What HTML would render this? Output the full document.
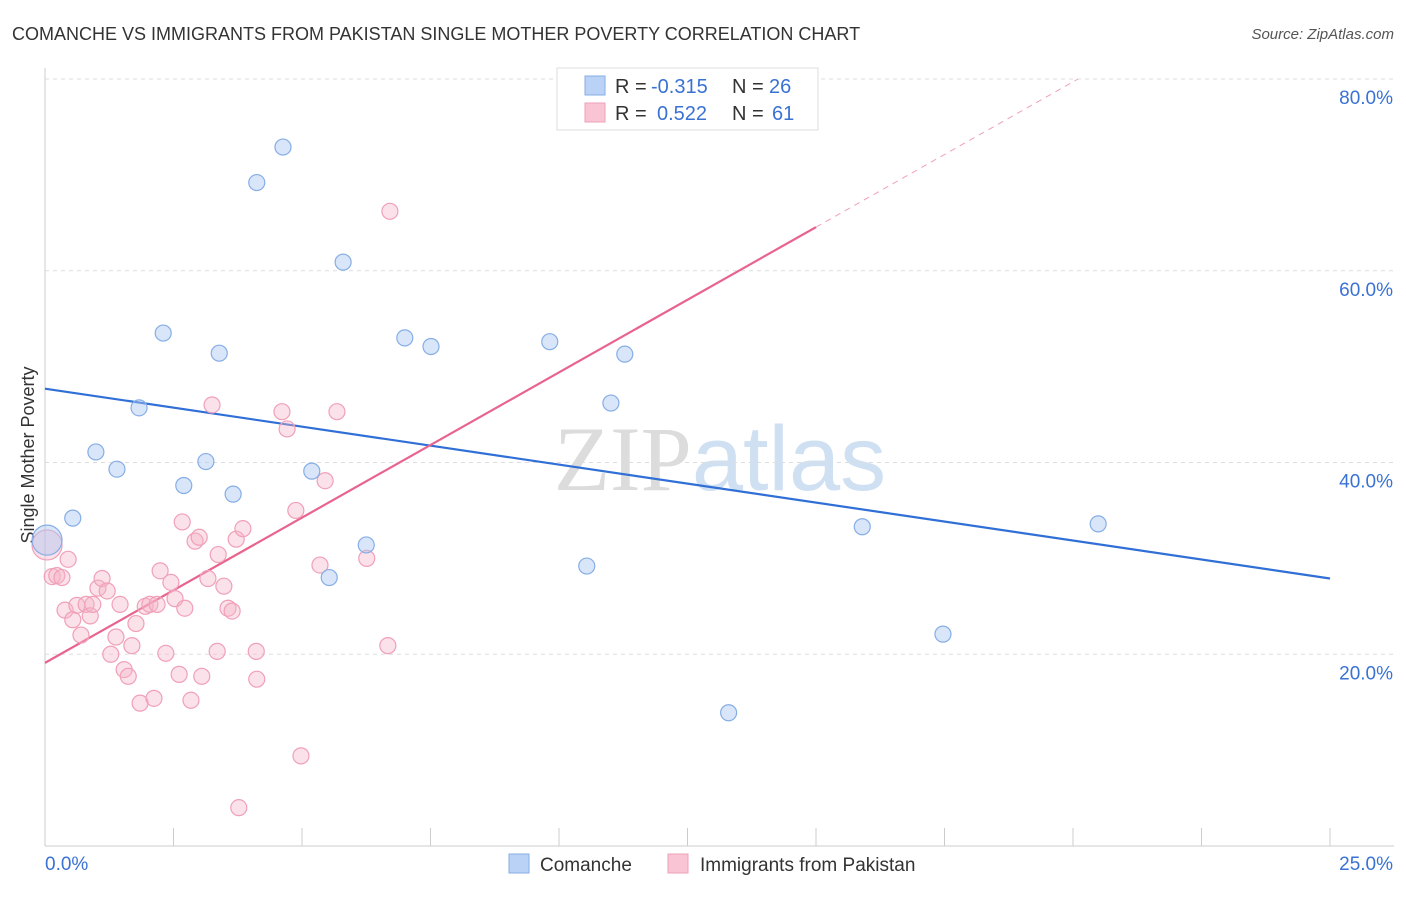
<!DOCTYPE html>
<html><head><meta charset="utf-8">
<style>
body{margin:0;background:#fff;font-family:"Liberation Sans",sans-serif;}
svg text{font-family:"Liberation Sans",sans-serif;}
</style></head>
<body>
<svg id="chart" width="1406" height="892" xmlns="http://www.w3.org/2000/svg">
<text x="12" y="40" font-size="18" fill="#333">COMANCHE VS IMMIGRANTS FROM PAKISTAN SINGLE MOTHER POVERTY CORRELATION CHART</text>
<text x="1394" y="39" font-size="15" fill="#555" font-style="italic" text-anchor="end">Source: ZipAtlas.com</text>
<text x="720" y="490" font-size="92" fill="#e4e4e4" text-anchor="middle"><tspan font-family="Liberation Serif" fill="#dcdcdc">ZIP</tspan><tspan fill="#cfe0f3">atlas</tspan></text>
<text transform="translate(34,455) rotate(-90)" font-size="18" fill="#333" text-anchor="middle">Single Mother Poverty</text>
<g id="grid"></g>
<g id="axes"></g>
<g id="lines"></g>
<g id="points"></g>
<g>
<rect x="557" y="68" width="261" height="62" fill="#fff" stroke="#ddd"/>
<rect x="585" y="76" width="20" height="19" fill="#b9d2f5" stroke="#86aee6"/>
<rect x="585" y="103" width="20" height="19" fill="#f9c5d5" stroke="#f0a0b8"/>
<text x="615" y="93" font-size="20" fill="#333">R =</text>
<text x="651" y="93" font-size="20" fill="#3a72d4">-0.315</text>
<text x="732" y="93" font-size="20" fill="#333">N =</text>
<text x="769" y="93" font-size="20" fill="#3a72d4">26</text>
<text x="615" y="120" font-size="20" fill="#333">R =</text>
<text x="657" y="120" font-size="20" fill="#3a72d4">0.522</text>
<text x="732" y="120" font-size="20" fill="#333">N =</text>
<text x="772" y="120" font-size="20" fill="#3a72d4">61</text>
</g>
<g>
<rect x="509" y="854" width="20" height="19" fill="#b9d2f5" stroke="#86aee6"/>
<text x="540" y="871" font-size="19" fill="#333">Comanche</text>
<rect x="668" y="854" width="20" height="19" fill="#f9c5d5" stroke="#f0a0b8"/>
<text x="700" y="871" font-size="19" fill="#333">Immigrants from Pakistan</text>
</g>
</svg>
<script>
const yTicks=[20,40,60,80];
const yTickLabels=["20.0%","40.0%","60.0%","80.0%"];
const xTickLabels=["0.0%","25.0%"];
const comancheX=[0.04,0.54,0.99,1.4,1.83,2.3,2.7,3.13,3.39,3.66,4.12,4.63,5.19,5.53,5.8,6.25,7.0,7.51,9.82,10.54,11.01,11.28,13.3,15.9,17.47,20.49];
const comancheY=[31.9,34.2,41.1,39.3,45.7,53.5,37.6,40.1,51.4,36.7,69.2,72.9,39.1,28.0,60.9,31.4,53.0,52.1,52.6,29.2,46.2,51.3,13.9,33.3,22.1,33.6];
const pakX=[0.04,0.14,0.23,0.33,0.45,0.39,0.54,0.62,0.7,0.8,0.88,0.93,1.03,1.11,1.21,1.28,1.38,1.46,1.54,1.62,1.69,1.77,1.85,1.95,2.04,2.12,2.18,2.24,2.35,2.45,2.53,2.61,2.72,2.67,2.84,2.92,3.0,3.05,3.17,3.25,3.35,3.37,3.48,3.56,3.64,3.72,3.77,3.85,4.11,4.12,4.61,4.71,4.88,4.98,5.35,5.45,5.68,6.26,6.67,6.71,10.12];
const pakY=[31.4,28.1,28.2,28.0,29.9,24.6,23.6,25.1,22.0,25.2,24.0,25.2,26.9,27.9,26.6,20.0,21.8,25.2,18.4,17.7,20.9,23.2,14.9,25.0,25.2,15.4,25.2,28.7,20.1,27.5,25.8,17.9,24.8,33.8,15.2,31.8,32.2,17.7,27.9,46.0,20.3,30.4,27.1,24.8,24.5,32.0,4.0,33.1,20.3,17.4,45.3,43.5,35.0,9.4,29.3,38.1,45.3,30.0,20.9,66.2,76.7];
const comancheLine=[47.7,27.9];
const pakLine=[19.1,3.03];
const NS="http://www.w3.org/2000/svg";
const X0=45,X1=1330,Y0=846,Y80=79;
const sx=v=>X0+(v/25)*(X1-X0);
const sy=v=>Y0-(v/80)*(Y0-Y80);
function mk(tag,attrs,parent){const e=document.createElementNS(NS,tag);for(const k in attrs)e.setAttribute(k,attrs[k]);document.getElementById(parent).appendChild(e);return e;}
yTicks.forEach((t,i)=>{
 const l=mk('line',{x1:X0,x2:1394,y1:sy(t),y2:sy(t),stroke:'#ddd','stroke-dasharray':'4,4'},'grid');
 
 
 const tx=mk('text',{x:1393,y:sy(t)+25,'font-size':19,fill:'#3a72d4','text-anchor':'end'},'grid');
 tx.textContent=yTickLabels[i];
 
 
});
let ax=mk('line',{x1:X0,x2:X0,y1:68,y2:Y0,stroke:'#ccc'},'axes');


ax=mk('line',{x1:X0,x2:1394,y1:Y0,y2:Y0,stroke:'#ccc'},'axes');


for(let i=1;i<=10;i++){const t=mk('line',{x1:sx(i*2.5),x2:sx(i*2.5),y1:828,y2:Y0,stroke:'#ccc'},'axes');
 
 }
let xl=mk('text',{x:45,y:870,'font-size':19,fill:'#3a72d4'},'axes');xl.textContent=xTickLabels[0];


xl=mk('text',{x:1393,y:870,'font-size':19,fill:'#3a72d4','text-anchor':'end'},'axes');xl.textContent=xTickLabels[1];


let ln=mk('line',{x1:sx(0),y1:sy(comancheLine[0]),x2:sx(25),y2:sy(comancheLine[1]),stroke:'#2f6fd6','stroke-width':2.2},'lines');


const pEnd=15, pDash=(80-pakLine[0])/pakLine[1];
ln=mk('line',{x1:sx(0),y1:sy(pakLine[0]),x2:sx(pEnd),y2:sy(pakLine[0]+pakLine[1]*pEnd),stroke:'#e8648f','stroke-width':2.2},'lines');


ln=mk('line',{x1:sx(pEnd),y1:sy(pakLine[0]+pakLine[1]*pEnd),x2:sx(pDash),y2:sy(80),stroke:'#f0a0b8','stroke-width':1,'stroke-dasharray':'6,5'},'lines');


pakX.forEach((v,i)=>{const c=mk('circle',{cx:sx(v),cy:sy(pakY[i]),r:i===0?15:8,fill:'rgba(246,180,200,0.4)',stroke:'#f0a0b8','stroke-width':1.2},'points');
 
 });
comancheX.forEach((v,i)=>{const c=mk('circle',{cx:sx(v),cy:sy(comancheY[i]),r:i===0?15:8,fill:'rgba(170,198,240,0.45)',stroke:'#86aee6','stroke-width':1.2},'points');
 
 });
</script>
</body></html>
